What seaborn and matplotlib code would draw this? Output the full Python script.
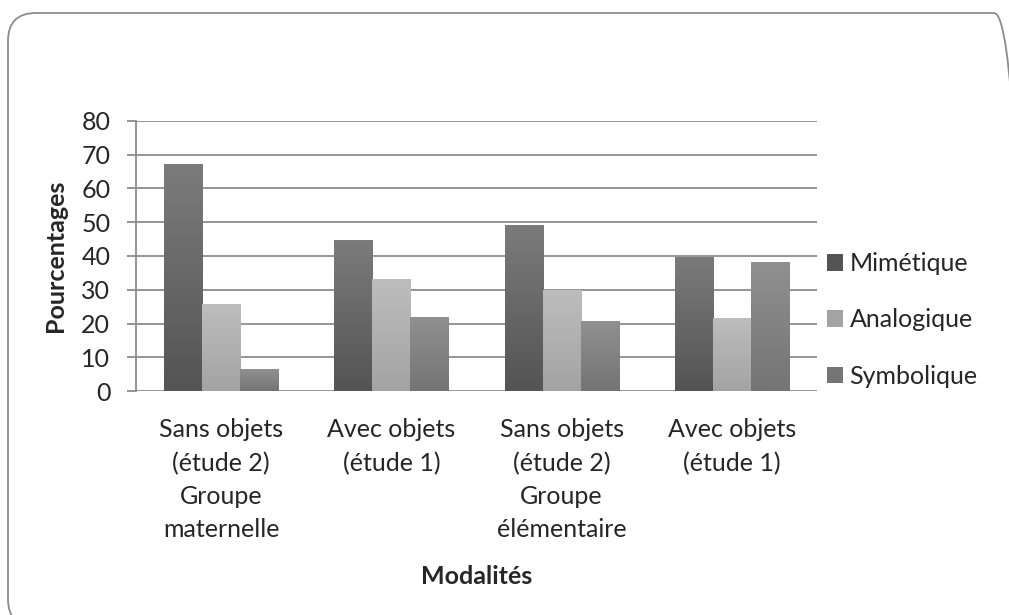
import numpy as np
import pandas as pd
import seaborn as sns
import matplotlib.pyplot as plt
from matplotlib.patches import FancyBboxPatch, Patch
from matplotlib.colors import LinearSegmentedColormap
from matplotlib.transforms import IdentityTransform

categories = ["Sans objets\n(étude 2)\nGroupe\nmaternelle",
              "Avec objets\n(étude 1)",
              "Sans objets\n(étude 2)\nGroupe\nélémentaire",
              "Avec objets\n(étude 1)"]
series = ["Mimétique", "Analogique", "Symbolique"]
mimetique = [67.2, 44.7, 49.1, 39.7]
analogique = [25.7, 33.1, 29.9, 21.6]
symbolique = [6.5, 21.9, 20.7, 38.2]

# gradient end colours (top, bottom) for each series
grads = {"Mimétique": ("#7b7b7b", "#545454"),
         "Analogique": ("#bdbdbd", "#a3a3a3"),
         "Symbolique": ("#909090", "#747474")}

keys = [f"c{i}" for i in range(len(categories))]
df = pd.DataFrame({
    "cat": keys * 3,
    "serie": np.repeat(series, len(keys)),
    "val": mimetique + analogique + symbolique,
})

sns.set_style("white")
plt.rcParams["font.family"] = ["Lato", "DejaVu Sans"]
plt.rcParams["savefig.bbox"] = None
FS = 18

fig = plt.figure(figsize=(10.09, 6.15), dpi=100)
ax = fig.add_axes([0.1348, 0.3642, 0.675, 0.4391])

palette = {s: grads[s][1] for s in series}
sns.barplot(data=df, x="cat", y="val", hue="serie", order=keys,
            hue_order=series, palette=palette, width=0.67,
            saturation=1, linewidth=0, legend=False, ax=ax)

# vertical gradient fill on every bar
for patch in list(ax.patches):
    fc = patch.get_facecolor()
    hexc = "#%02x%02x%02x" % tuple(int(round(c * 255)) for c in fc[:3])
    for s in series:
        if hexc == grads[s][1]:
            top, bot = grads[s]
    cmap = LinearSegmentedColormap.from_list("g", [bot, top])
    x0, y0 = patch.get_x(), patch.get_y()
    w, h = patch.get_width(), patch.get_height()
    im = ax.imshow(np.linspace(0, 1, 100).reshape(-1, 1), cmap=cmap,
                   aspect="auto", origin="lower",
                   extent=[x0, x0 + w, y0, y0 + h], zorder=2)
    im.set_clip_path(patch)
ax.set_xlim(-0.5, len(keys) - 0.5)
ax.set_ylim(0, 80)

ax.set_yticks(range(0, 81, 10))
ax.yaxis.grid(True, color="#8c8c8c", linewidth=1.3)
ax.set_axisbelow(True)
for sp in ["top", "right", "bottom"]:
    ax.spines[sp].set_visible(False)
ax.spines["left"].set_color("#8c8c8c")
ax.spines["left"].set_linewidth(1.3)
ax.tick_params(axis="y", which="both", left=True, length=6.5, color="#8c8c8c",
               width=1.3, labelsize=FS, pad=12)
ax.tick_params(axis="x", bottom=False, labelsize=FS, pad=16)
ax.set_xticks(range(len(keys)))
ax.set_xticklabels(categories, linespacing=1.54, va="top")

ax.set_ylabel("Pourcentages", fontsize=FS, fontweight="bold", labelpad=10)
ax.set_xlabel("Modalités", fontsize=FS, fontweight="bold", labelpad=17)

handles = [Patch(facecolor=grads[s][1], edgecolor="none") for s in series]
ax.legend(handles, series, loc="center left", bbox_to_anchor=(1.0, 0.263),
          borderaxespad=0, frameon=False, fontsize=FS, handlelength=0.65,
          handleheight=0.65, handletextpad=0.25, labelspacing=1.33)

# rounded chart border (pixel coords), running off the right and bottom edges
border = FancyBboxPatch((8, -12), 1014, 614,
                        boxstyle="round,pad=0,rounding_size=28",
                        transform=IdentityTransform(), facecolor="none",
                        edgecolor="#8c8c8c", linewidth=1.3)
fig.patches.append(border)

fig.savefig("out.png", dpi=100)
